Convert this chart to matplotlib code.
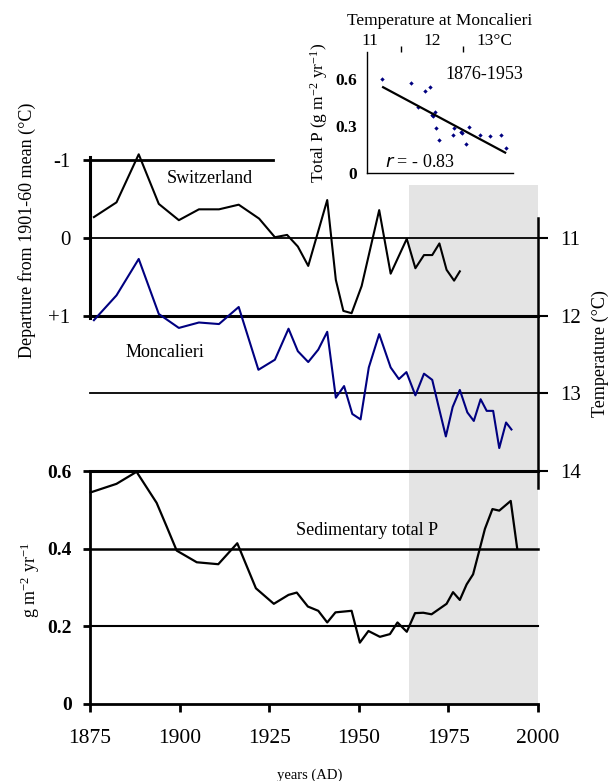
import numpy as np
import matplotlib
matplotlib.use("Agg")
import matplotlib.pyplot as plt

plt.rcParams['font.family'] = ['Liberation Serif', 'DejaVu Serif']
plt.rcParams['mathtext.default'] = 'regular'

# Switzerland, departure from 1901-60 mean (degC)
swiss_year = [1876.1, 1882.4, 1888.6, 1894.2, 1899.8, 1905.4, 1911.0, 1916.5, 1922.2,
              1926.6, 1930.0, 1933.0, 1935.9, 1941.2, 1943.6, 1945.7, 1948.0, 1950.8,
              1955.7, 1958.9, 1963.4, 1965.8, 1968.2, 1970.5, 1972.5, 1974.5, 1976.6, 1978.2]
swiss_dep = [-0.27, -0.46, -1.08, -0.44, -0.23, -0.37, -0.37, -0.43, -0.25,
             -0.01, -0.04, 0.11, 0.36, -0.49, 0.54, 0.94, 0.97, 0.62,
             -0.36, 0.46, 0.01, 0.39, 0.22, 0.22, 0.07, 0.41, 0.55, 0.43]

# Moncalieri temperature (degC)
monc_year = [1876.1, 1882.4, 1888.6, 1894.2, 1899.8, 1905.4, 1911.0, 1916.5, 1922.0,
             1926.6, 1930.4, 1933.0, 1935.9, 1938.7, 1941.2, 1943.6, 1945.9, 1948.2,
             1950.5, 1952.8, 1955.7, 1958.9, 1961.2, 1963.3, 1965.8, 1968.2, 1970.5,
             1972.2, 1974.3, 1976.2, 1978.2, 1980.3, 1982.1, 1984.0, 1985.7, 1987.5,
             1989.2, 1991.1, 1992.6]
monc_temp = [12.06, 11.74, 11.27, 11.98, 12.16, 12.09, 12.11, 11.89, 12.70,
             12.57, 12.17, 12.46, 12.60, 12.44, 12.21, 13.06, 12.91, 13.27,
             13.34, 12.67, 12.24, 12.67, 12.82, 12.73, 13.03, 12.75, 12.83,
             13.16, 13.56, 13.18, 12.96, 13.25, 13.36, 13.08, 13.23, 13.23,
             13.71, 13.38, 13.47]

# Sedimentary total P (g m-2 yr-1)
p_year = [1875.2, 1882.4, 1888.0, 1893.6, 1896.4, 1899.2, 1904.8, 1910.8, 1916.1,
          1921.3, 1926.3, 1930.4, 1932.7, 1935.8, 1938.7, 1941.2, 1943.5, 1948.0,
          1950.3, 1952.7, 1955.9, 1958.7, 1960.8, 1963.4, 1965.7, 1968.0, 1970.3,
          1974.5, 1976.3, 1978.2, 1980.1, 1981.9, 1983.8, 1985.2, 1987.3, 1989.2,
          1992.4, 1994.2]
p_val = [0.545, 0.567, 0.598, 0.518, 0.457, 0.395, 0.365, 0.36, 0.414,
         0.298, 0.258, 0.281, 0.287, 0.251, 0.240, 0.21, 0.236, 0.24,
         0.158, 0.188, 0.173, 0.180, 0.210, 0.186, 0.234, 0.235, 0.231,
         0.258, 0.288, 0.268, 0.308, 0.334, 0.401, 0.451, 0.502, 0.498,
         0.523, 0.401]

# inset: total P vs Moncalieri temperature, 1876-1953
sc_temp = [11.20, 11.66, 11.88, 11.96, 11.78, 12.00, 12.02, 12.05, 12.06, 12.11,
           12.34, 12.35, 12.46, 12.49, 12.55, 12.59, 12.77, 12.94, 13.12, 13.19]
sc_p = [0.60, 0.572, 0.525, 0.547, 0.419, 0.37, 0.364, 0.39, 0.285, 0.21,
        0.243, 0.29, 0.264, 0.253, 0.183, 0.296, 0.243, 0.238, 0.243, 0.158]
fit_temp = [11.21, 13.18]
fit_p = [0.547, 0.130]

year_ticks = [1875, 1900, 1925, 1950, 1975, 2000]
shade = (1964, 2000)
navy = '#000080'
grey = '#e4e4e4'

fig = plt.figure(figsize=(6.1, 7.81), dpi=100)

# ---- bottom panel: sedimentary P
axb = fig.add_axes([0.1475, 0.0986, 0.7344, 0.2983])
axb.set_xlim(1875, 2000)
axb.set_ylim(0, 0.6)
axb.axvspan(*shade, color=grey, lw=0, zorder=0)
for yv, lw in [(0.4, 1.8), (0.2, 1.5)]:
    axb.plot([1875, 2000], [yv, yv], color='black', lw=lw, clip_on=False)
axb.plot(p_year, p_val, color='black', lw=1.6, clip_on=False)
for s in ['top', 'right']:
    axb.spines[s].set_visible(False)
axb.spines['left'].set_linewidth(2)
axb.spines['bottom'].set_linewidth(2)
axb.set_xticks(year_ticks)
axb.set_yticks([0, 0.2, 0.4, 0.6])
axb.set_yticklabels(['0', '0.2', '0.4', '0.6'], fontweight='bold')
axb.tick_params(axis='x', direction='out', length=6, width=2, pad=12, labelsize=15.5)
axb.tick_params(axis='y', direction='out', length=5, width=2, pad=8, labelsize=14)
axb.text(1952.3, 0.448, 'Sedimentary total P', ha='center', va='center', fontsize=13)

# ---- top panel: departures (left) / Moncalieri temperature (right)
axt = fig.add_axes([0.1475, 0.3969, 0.7344, 0.411])
axt.set_xlim(1875, 2000)
axt.set_ylim(3.006, -1.135)
axt.patch.set_visible(False)
axt.axvspan(*shade, ymin=0, ymax=0.891, color=grey, lw=0, zorder=0)
axt.plot([1875, 1926], [-1, -1], color='black', lw=2, clip_on=False)
axt.plot([1875, 2000], [0, 0], color='black', lw=1.3, clip_on=False)
axt.plot([1875, 2000], [1, 1], color='black', lw=2.2, clip_on=False)
axt.plot([1875, 2000], [2, 2], color='black', lw=1.3, clip_on=False)
axt.plot([1875, 2000], [3, 3], color='black', lw=2.2, clip_on=False)
axt.plot(swiss_year, swiss_dep, color='black', lw=1.5)
for s in ['top', 'right', 'bottom']:
    axt.spines[s].set_visible(False)
axt.spines['left'].set_linewidth(2.2)
axt.spines['left'].set_bounds(-1.05, 1.03)
axt.set_xticks([])
axt.set_yticks([-1, 0, 1])
axt.set_yticklabels(['-1', '0', '+1'])
axt.tick_params(axis='y', direction='out', length=5, width=2, pad=9, labelsize=15)
axt.text(1908.5, -0.774, 'Switzerland', ha='center', va='center', fontsize=13)
axt.text(1895.9, 1.48, 'Moncalieri', ha='center', va='center', fontsize=13)

axr = axt.twinx()
axr.set_ylim(14.006, 9.865)
axr.plot(monc_year, monc_temp, color=navy, lw=1.5)
for s in ['top', 'left', 'bottom']:
    axr.spines[s].set_visible(False)
axr.spines['right'].set_linewidth(1.8)
axr.spines['right'].set_bounds(10.74, 14.23)
axr.set_yticks([11, 12, 13, 14])
axr.tick_params(axis='y', direction='out', length=7, width=1.5, pad=9, labelsize=15)

fig.text(27 / 610, 1 - 230 / 781, 'Departure from 1901-60 mean (°C)', rotation=90,
         ha='center', va='center', fontsize=13)
fig.text(600 / 610, 1 - 354 / 781, 'Temperature (°C)', rotation=90,
         ha='center', va='center', fontsize=13)
fig.text(30 / 610, 1 - 580 / 781, 'g m$^{-2}$ yr$^{-1}$', rotation=90,
         ha='center', va='center', fontsize=13)
fig.text(310 / 610, 1 - 775 / 781, 'years (AD)', ha='center', va='center', fontsize=10.5)

# ---- inset scatter
axi = fig.add_axes([0.6016, 0.7785, 0.2387, 0.155])
axi.set_xlim(10.95, 13.3)
axi.set_ylim(0, 0.772)
axi.patch.set_visible(False)
axi.scatter(sc_temp, sc_p, marker='D', s=5, color=navy, lw=0)
axi.plot(fit_temp, fit_p, color='black', lw=1.6)
for s in ['top', 'right']:
    axi.spines[s].set_visible(False)
axi.spines['left'].set_linewidth(1)
axi.spines['bottom'].set_linewidth(1)
axi.set_yticks([0, 0.3, 0.6])
axi.set_yticklabels(['0', '0.3', '0.6'], fontweight='bold')
axi.tick_params(axis='y', length=0, pad=7, labelsize=12.5)
axi.xaxis.set_ticks_position('top')
axi.set_xticks([11, 12, 13])
axi.set_xticklabels(['11', '12', '13°C'])
axi.set_xticks([11.5, 12.5], minor=True)
axi.tick_params(axis='x', which='major', length=0, pad=2, labelsize=12.5)
axi.tick_params(axis='x', which='minor', direction='out', length=4, width=1)
axi.set_xlabel('Temperature at Moncalieri', fontsize=12.5, labelpad=6)
axi.xaxis.set_label_position('top')
axi.set_ylabel('Total P (g m$^{-2}$ yr$^{-1}$)', fontsize=12.5, labelpad=4)
axi.text(12.85, 0.63, '1876-1953', ha='center', va='center', fontsize=13)
axi.text(11.8, 0.07, '$\\it{r}$ = - 0.83', ha='center', va='center', fontsize=13)

fig.savefig('out.png', dpi=100)
